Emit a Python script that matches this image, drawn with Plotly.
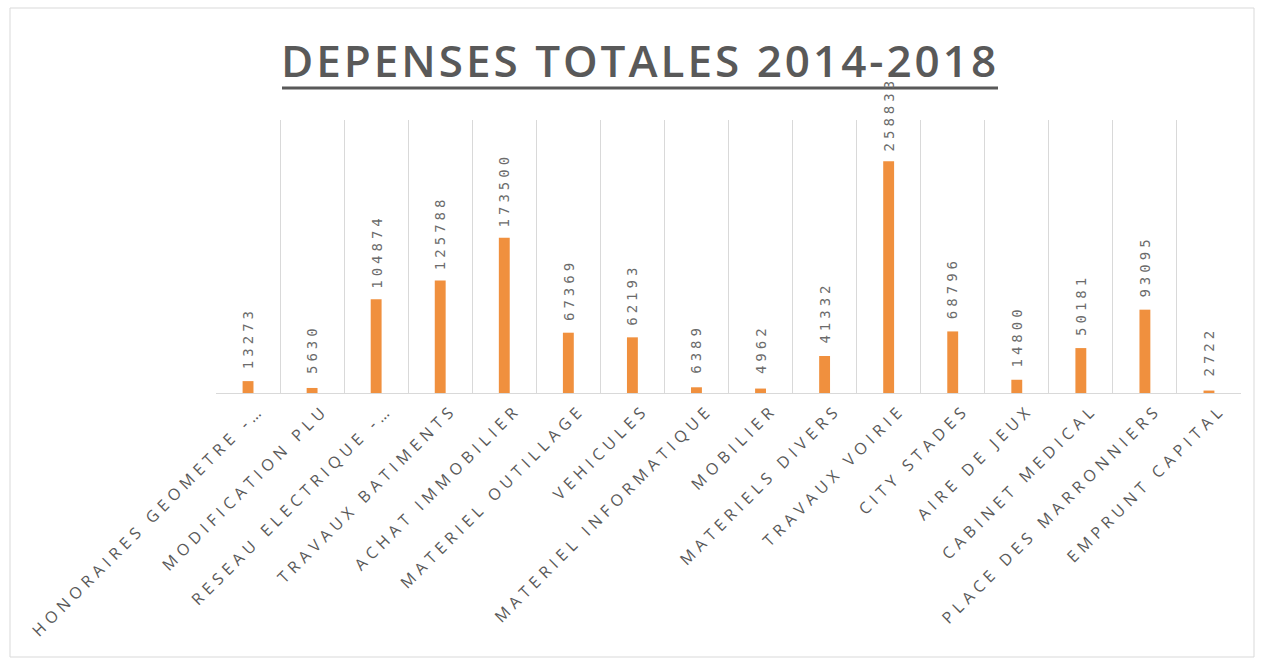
import plotly.graph_objects as go

categories = ["HONORAIRES GEOMETRE -…", "MODIFICATION PLU", "RESEAU ELECTRIQUE -…",
              "TRAVAUX BATIMENTS", "ACHAT IMMOBILIER", "MATERIEL OUTILLAGE", "VEHICULES",
              "MATERIEL INFORMATIQUE", "MOBILIER", "MATERIELS DIVERS", "TRAVAUX VOIRIE",
              "CITY STADES", "AIRE DE JEUX", "CABINET MEDICAL", "PLACE DES MARRONNIERS",
              "EMPRUNT CAPITAL"]
values = [13273, 5630, 104874, 125788, 173500, 67369, 62193, 6389, 4962, 41332,
          258833, 68796, 14800, 50181, 93095, 2722]
title_text = "DEPENSES TOTALES 2014-2018"

W, H = 1262, 663
L, R, T, B = 216, 1241, 120, 393
GRAY = "#595959"

def px_x(x):
    return (x - L) / (R - L)

def px_y(y):
    return (B - y) / (B - T)

fig = go.Figure(go.Bar(
    x=categories, y=values,
    marker=dict(color="#F0903E", line=dict(width=0)),
    hoverinfo="x+y",
))

annotations = [
    dict(x=c, y=v, xref="x", yref="y", text=str(v), textangle=-90, showarrow=False,
         xanchor="center", yanchor="bottom", yshift=20,
         font=dict(family="DejaVu Sans Mono", size=14, color="#6b6b6b"))
    for c, v in zip(categories, values)
]

fig.update_layout(
    width=W, height=H,
    margin=dict(l=L, r=W - R, t=T, b=H - B, autoexpand=False),
    paper_bgcolor="white", plot_bgcolor="white",
    bargap=0.83, showlegend=False,
    title=dict(text=title_text, x=(282 + 998) / 2 / W, xanchor="center",
               y=1 - 62 / H, yanchor="middle", yref="container",
               font=dict(family="Open Sans", size=44, color=GRAY, weight=600)),
    xaxis=dict(type="category", tickson="boundaries", showgrid=True, gridcolor="#D9D9D9",
               gridwidth=1, ticks="", tickangle=-45, showline=True, linecolor="#D9D9D9",
               ticklabelstandoff=0, ticklabelshift=12,
               tickfont=dict(family="Open Sans", size=16, color=GRAY)),
    yaxis=dict(range=[0, 305000], showgrid=False, showticklabels=False, zeroline=False,
               showline=False, ticks=""),
    annotations=annotations,
    shapes=[
        dict(type="line", xref="paper", yref="paper", x0=px_x(282), x1=px_x(998),
             y0=px_y(88), y1=px_y(88), line=dict(color=GRAY, width=3)),
        dict(type="rect", xref="paper", yref="paper", x0=px_x(10), x1=px_x(1254),
             y0=px_y(657), y1=px_y(8), line=dict(color="#D9D9D9", width=1), layer="below"),
    ],
)

post = """
var s = document.createElement('style');
s.textContent = '.xtick text{letter-spacing:5px;} .annotation-text{letter-spacing:4px;} .gtitle{letter-spacing:3px;}';
document.head.appendChild(s);
"""

fig.write_html("out.html", post_script=post)
